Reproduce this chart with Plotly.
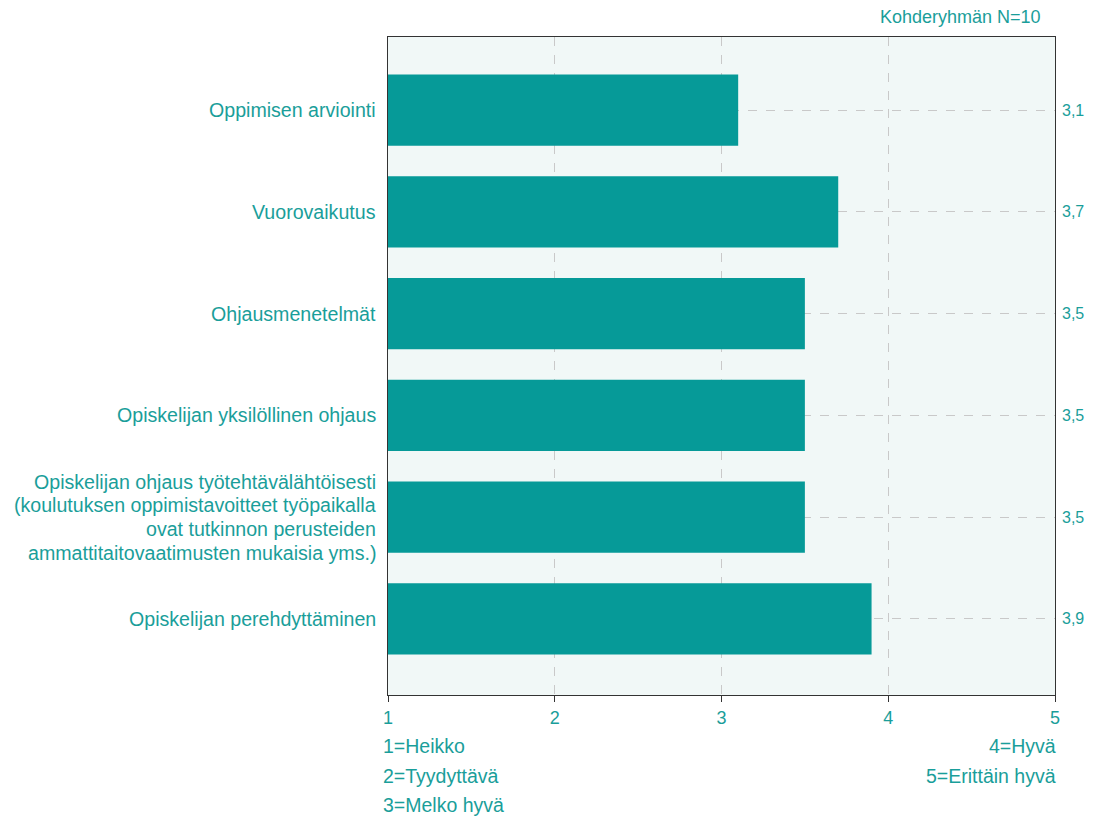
import plotly.graph_objects as go

categories = [
    "Oppimisen arviointi",
    "Vuorovaikutus",
    "Ohjausmenetelmät",
    "Opiskelijan yksilöllinen ohjaus",
    "Opiskelijan ohjaus työtehtävälähtöisesti\n(koulutuksen oppimistavoitteet työpaikalla\novat tutkinnon perusteiden\nammattitaitovaatimusten mukaisia yms.)",
    "Opiskelijan perehdyttäminen",
]
values = [3.1, 3.7, 3.5, 3.5, 3.5, 3.9]
value_labels = ["3,1", "3,7", "3,5", "3,5", "3,5", "3,9"]
x_ticks = [1, 2, 3, 4, 5]
scale_left = ["1=Heikko", "2=Tyydyttävä", "3=Melko hyvä"]
scale_right = ["4=Hyvä", "5=Erittäin hyvä"]
n_label = "Kohderyhmän N=10"

TEAL = "#1a9e9a"
BAR = "#069a98"
FONT = "Liberation Sans, Arial, sans-serif"

idx = list(range(len(categories)))

fig = go.Figure()
fig.add_trace(go.Bar(
    x=values, y=idx, orientation="h", base=0,
    marker=dict(color=BAR, line=dict(width=0)),
    width=0.7, hoverinfo="skip", showlegend=False,
))

annotations = []
# category labels (multi-line with custom spacing)
for i, cat in enumerate(categories):
    lines = cat.split("\n")
    n = len(lines)
    for j, ln in enumerate(lines):
        annotations.append(dict(
            x=0, xref="paper", xanchor="right", xshift=-10,
            y=i, yref="y", yanchor="middle", yshift=-(j - (n - 1) / 2) * 23.7,
            text=ln, showarrow=False, font=dict(color=TEAL, size=19.6, family=FONT),
        ))
# value labels on the right
for i, lab in enumerate(value_labels):
    annotations.append(dict(
        x=1, xref="paper", xanchor="left", xshift=5,
        y=i, yref="y", yanchor="middle",
        text=lab, showarrow=False, font=dict(color=TEAL, size=16, family=FONT),
    ))
# scale explanations
for k, t in enumerate(scale_left):
    annotations.append(dict(
        x=0, xref="paper", xanchor="left", xshift=-7,
        y=0, yref="paper", yanchor="middle", yshift=-51 - 29.5 * k,
        text=t, showarrow=False, font=dict(color=TEAL, size=19.5, family=FONT),
    ))
for k, t in enumerate(scale_right):
    annotations.append(dict(
        x=1, xref="paper", xanchor="right", xshift=3,
        y=0, yref="paper", yanchor="middle", yshift=-51 - 29.5 * k,
        text=t, showarrow=False, font=dict(color=TEAL, size=19.5, family=FONT),
    ))
annotations.append(dict(
    x=1, xref="paper", xanchor="right", xshift=-12,
    y=1, yref="paper", yanchor="middle", yshift=20,
    text=n_label, showarrow=False, font=dict(color=TEAL, size=18, family=FONT),
))

fig.update_layout(
    width=1098, height=808,
    margin=dict(l=380, r=51, t=29, b=121),
    paper_bgcolor="white", plot_bgcolor="#f1f8f7",
    font=dict(family=FONT, color=TEAL, size=16),
    annotations=annotations,
)
fig.update_xaxes(
    range=[1, 5], tickvals=x_ticks, ticktext=[str(v) for v in x_ticks],
    ticks="outside", ticklen=6, tickcolor="#333333",
    showline=True, linecolor="#333333", linewidth=1, mirror=True,
    showgrid=True, gridcolor="#c9c9c9", griddash="dash", gridwidth=1,
    tickfont=dict(color=TEAL, size=18, family=FONT), zeroline=False,
)
fig.update_yaxes(
    range=[5.747, -0.718], tickvals=idx, showticklabels=False, ticks="",
    showline=True, linecolor="#333333", linewidth=1, mirror=True,
    showgrid=True, gridcolor="#c9c9c9", griddash="dash", gridwidth=1,
    zeroline=False,
)

fig.write_html("out.html")
